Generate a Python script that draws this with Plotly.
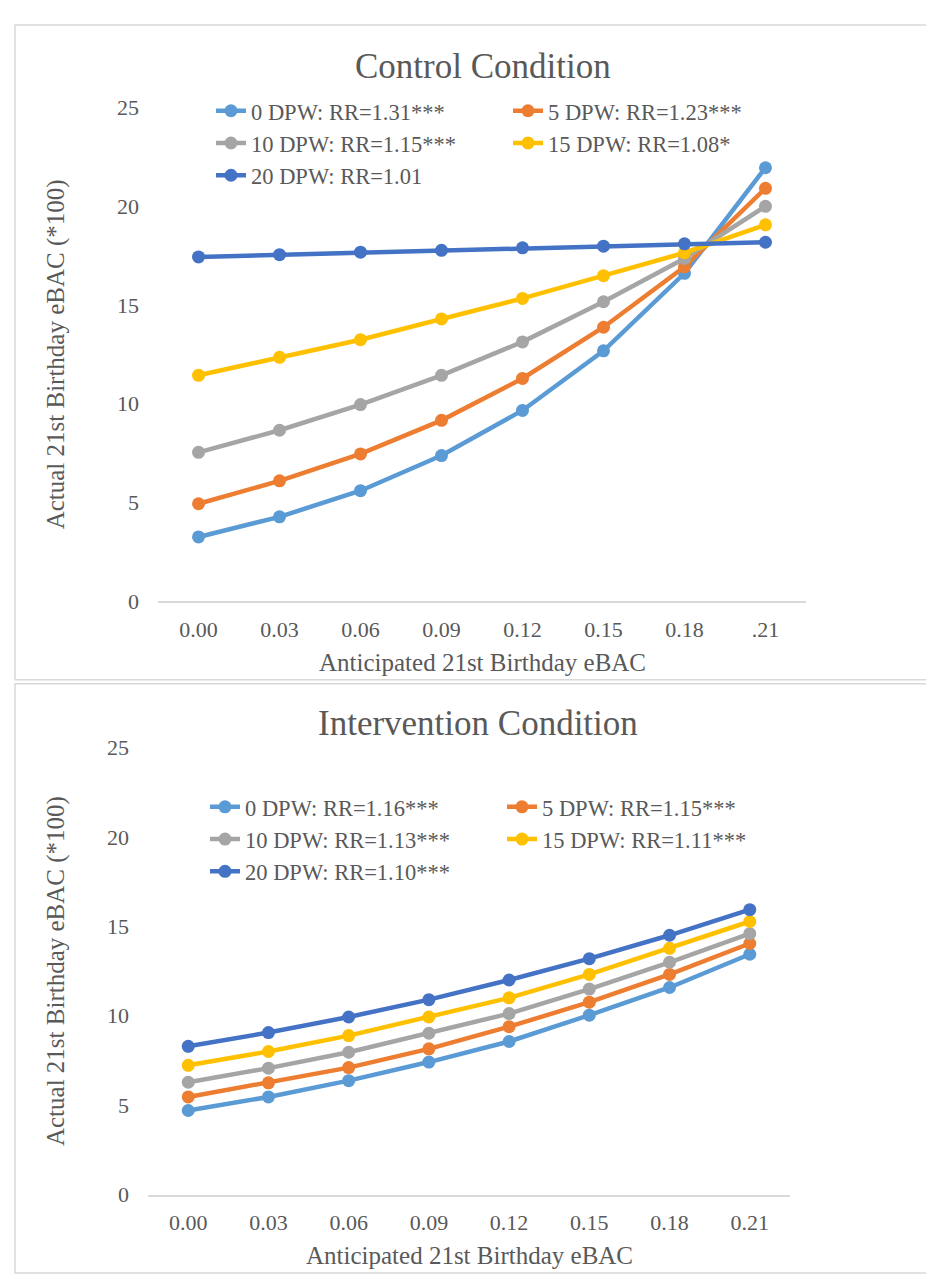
import plotly.graph_objects as go

# ---------------- data ----------------
top_x_labels = ["0.00", "0.03", "0.06", "0.09", "0.12", "0.15", "0.18", ".21"]
bot_x_labels = ["0.00", "0.03", "0.06", "0.09", "0.12", "0.15", "0.18", "0.21"]

top_names = ["0 DPW: RR=1.31***", "5 DPW: RR=1.23***", "10 DPW: RR=1.15***",
             "15 DPW: RR=1.08*", "20 DPW: RR=1.01"]
bot_names = ["0 DPW: RR=1.16***", "5 DPW: RR=1.15***", "10 DPW: RR=1.13***",
             "15 DPW: RR=1.11***", "20 DPW: RR=1.10***"]

ctrl_0dpw = [3.26, 4.28, 5.60, 7.38, 9.66, 12.68, 16.60, 21.94]
ctrl_5dpw = [4.94, 6.10, 7.46, 9.16, 11.28, 13.87, 16.93, 20.90]
ctrl_10dpw = [7.54, 8.66, 9.96, 11.44, 13.13, 15.16, 17.35, 19.99]
ctrl_15dpw = [11.44, 12.35, 13.24, 14.29, 15.33, 16.48, 17.64, 19.05]
ctrl_20dpw = [17.43, 17.54, 17.67, 17.76, 17.89, 17.97, 18.09, 18.17]

int_0dpw = [4.70, 5.46, 6.37, 7.41, 8.56, 10.03, 11.58, 13.44]
int_5dpw = [5.46, 6.25, 7.10, 8.15, 9.39, 10.76, 12.31, 14.04]
int_10dpw = [6.28, 7.07, 7.96, 9.02, 10.12, 11.49, 12.99, 14.59]
int_15dpw = [7.23, 8.00, 8.89, 9.93, 11.00, 12.31, 13.77, 15.27]
int_20dpw = [8.29, 9.06, 9.93, 10.90, 12.00, 13.19, 14.50, 15.93]

y_ticks = [0, 5, 10, 15, 20, 25]

# ---------------- styling ----------------
colors = ["#5B9BD5", "#ED7D31", "#A5A5A5", "#FFC000", "#4472C4"]
FONT = "Liberation Serif"
TXT = "#595959"
GRID = "#D9D9D9"

W, H = 934, 1279
MR = 130                      # right margin (limits legend width -> 2 columns)
PW = W - MR                   # plotting-area width in px


def px(x):
    return x / PW


def py(y):
    return 1 - y / H


fig = go.Figure()

ctrl_series = [ctrl_0dpw, ctrl_5dpw, ctrl_10dpw, ctrl_15dpw, ctrl_20dpw]
int_series = [int_0dpw, int_5dpw, int_10dpw, int_15dpw, int_20dpw]

for name, vals, c in zip(top_names, ctrl_series, colors):
    fig.add_trace(go.Scatter(
        x=top_x_labels, y=vals, name=name, mode="lines+markers",
        line=dict(color=c, width=4.5), marker=dict(color=c, size=13),
        xaxis="x", yaxis="y", legend="legend"))

for name, vals, c in zip(bot_names, int_series, colors):
    fig.add_trace(go.Scatter(
        x=bot_x_labels, y=vals, name=name, mode="lines+markers",
        line=dict(color=c, width=4.5), marker=dict(color=c, size=13),
        xaxis="x2", yaxis="y2", legend="legend2"))

xcommon = dict(type="category", showgrid=False, zeroline=False,
               showline=True, linecolor=GRID, linewidth=1.5, ticks="",
               tickfont=dict(family=FONT, size=22, color=TXT),
               ticklabelstandoff=7, fixedrange=True)
ycommon = dict(range=[0, 25], tickvals=y_ticks, showgrid=False,
               zeroline=False, showline=False, ticks="",
               tickfont=dict(family=FONT, size=22, color=TXT),
               ticklabelstandoff=18, fixedrange=True)

legcommon = dict(orientation="h", xanchor="left", yanchor="top",
                 entrywidth=252, entrywidthmode="pixels",
                 bgcolor="rgba(0,0,0,0)", traceorder="normal",
                 font=dict(family=FONT, size=22.5, color=TXT))

fig.update_layout(
    width=W, height=H,
    margin=dict(l=0, r=MR, t=0, b=0),
    paper_bgcolor="white", plot_bgcolor="white",
    font=dict(family=FONT, color=TXT),
    showlegend=True,
    xaxis=dict(domain=[px(150), px(798)], anchor="y", **xcommon),
    yaxis=dict(domain=[py(593), py(89)], anchor="x", **ycommon),
    xaxis2=dict(domain=[px(140), px(782)], anchor="y2", **xcommon),
    yaxis2=dict(domain=[py(1198), py(742)], anchor="x2", **ycommon),
    legend=dict(x=px(203), y=py(71), **legcommon),
    legend2=dict(x=px(197), y=py(781), **legcommon),
)

# panel borders
fig.add_shape(type="rect", xref="paper", yref="paper",
              x0=px(7), x1=px(931), y0=py(673), y1=py(5),
              line=dict(color=GRID, width=1.5), layer="below")
fig.add_shape(type="rect", xref="paper", yref="paper",
              x0=px(7), x1=px(931), y0=py(1278), y1=py(677),
              line=dict(color=GRID, width=1.5), layer="below")

ann = []
ann.append(dict(text="Control Condition", x=px(475), y=py(47),
                font=dict(size=35)))
ann.append(dict(text="Intervention Condition", x=px(470), y=py(718),
                font=dict(size=35)))
ann.append(dict(text="Anticipated 21st Birthday eBAC", x=px(474), y=py(655),
                font=dict(size=25)))
ann.append(dict(text="Anticipated 21st Birthday eBAC", x=px(461), y=py(1260),
                font=dict(size=25)))
ann.append(dict(text="Actual 21st Birthday eBAC (*100)", x=px(48), y=py(341),
                font=dict(size=25), textangle=-90))
ann.append(dict(text="Actual 21st Birthday eBAC (*100)", x=px(48), y=py(970),
                font=dict(size=25), textangle=-90))
for a in ann:
    a.update(xref="paper", yref="paper", showarrow=False,
             xanchor="center", yanchor="middle")
    a["font"].update(family=FONT, color=TXT)
    fig.add_annotation(**a)

fig.write_html("out.html")
